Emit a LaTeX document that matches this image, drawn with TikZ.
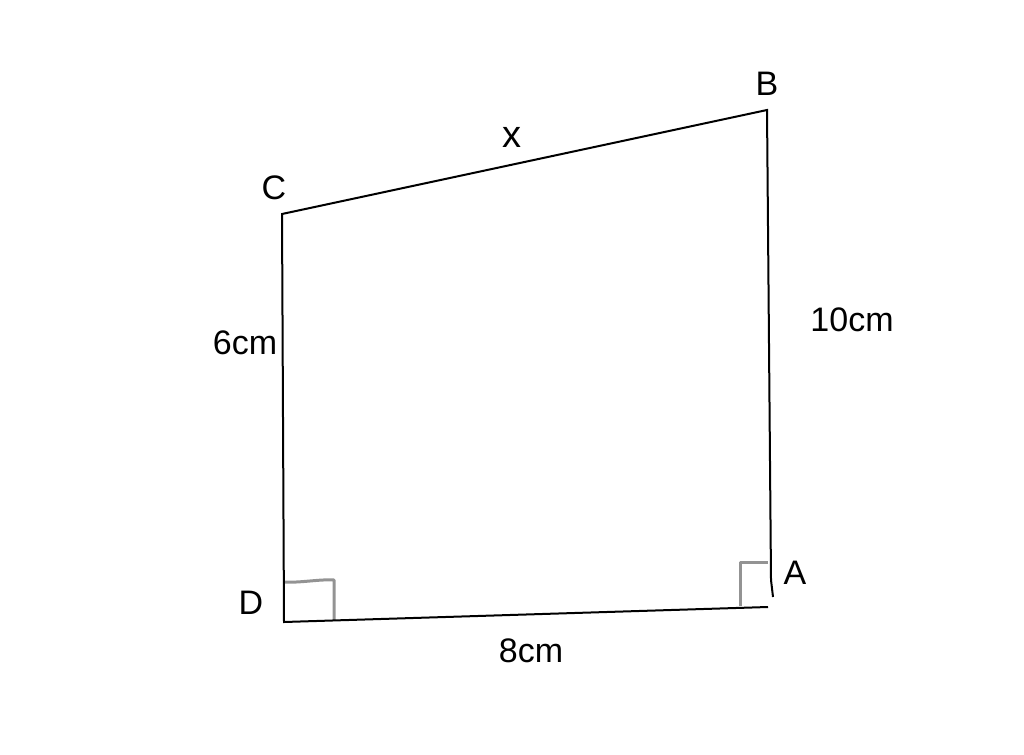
\documentclass[tikz,border=0pt]{standalone}
\usepackage{fontspec}
\setmainfont{Liberation Sans}
\begin{document}
\begin{tikzpicture}[x=1pt,y=-1pt,
  edge/.style={draw=black,line width=2pt,line join=miter},
  rightmark/.style={draw=gray!85,line width=3pt,line join=round},
  lbl/.style={font=\fontsize{34}{40}\selectfont,inner sep=0pt}]
\useasboundingbox (0,0) rectangle (1024,754);
\coordinate (B) at (767,110);
\coordinate (C) at (282,214);
\coordinate (D) at (284,622);
\coordinate (A) at (768,607);
\coordinate (Aend) at (773,597);
\coordinate (Abend) at (771,580);
% right-angle marks
\coordinate (d1) at (285,582);
\coordinate (d2) at (334,580);
\coordinate (d3) at (334,620);
\coordinate (a1) at (740,606);
\coordinate (a2) at (740,562);
\coordinate (a3) at (768,562);
\draw[rightmark] (d1) .. controls (300,583) and (320,579) .. (d2) -- (d3);
\draw[rightmark] (a1) -- (a2) -- (a3);
% sides
\draw[edge] (Aend) .. controls (Abend) and (Abend) .. (Abend) -- (B) -- (C) -- (D) -- (A);
% labels
\node[lbl] (lB) at (767,84) {B};
\node[lbl] (lC) at (274,188) {C};
\node[lbl] (lD) at (251,603) {D};
\node[lbl] (lA) at (795,573) {A};
\node[lbl,font=\fontsize{38}{44}\selectfont] (lx) at (512,137) {x};
\node[lbl] (l6) at (245,343) {6cm};
\node[lbl] (l10) at (852,320) {10cm};
\node[lbl] (l8) at (531,651) {8cm};
\end{tikzpicture}
\end{document}
